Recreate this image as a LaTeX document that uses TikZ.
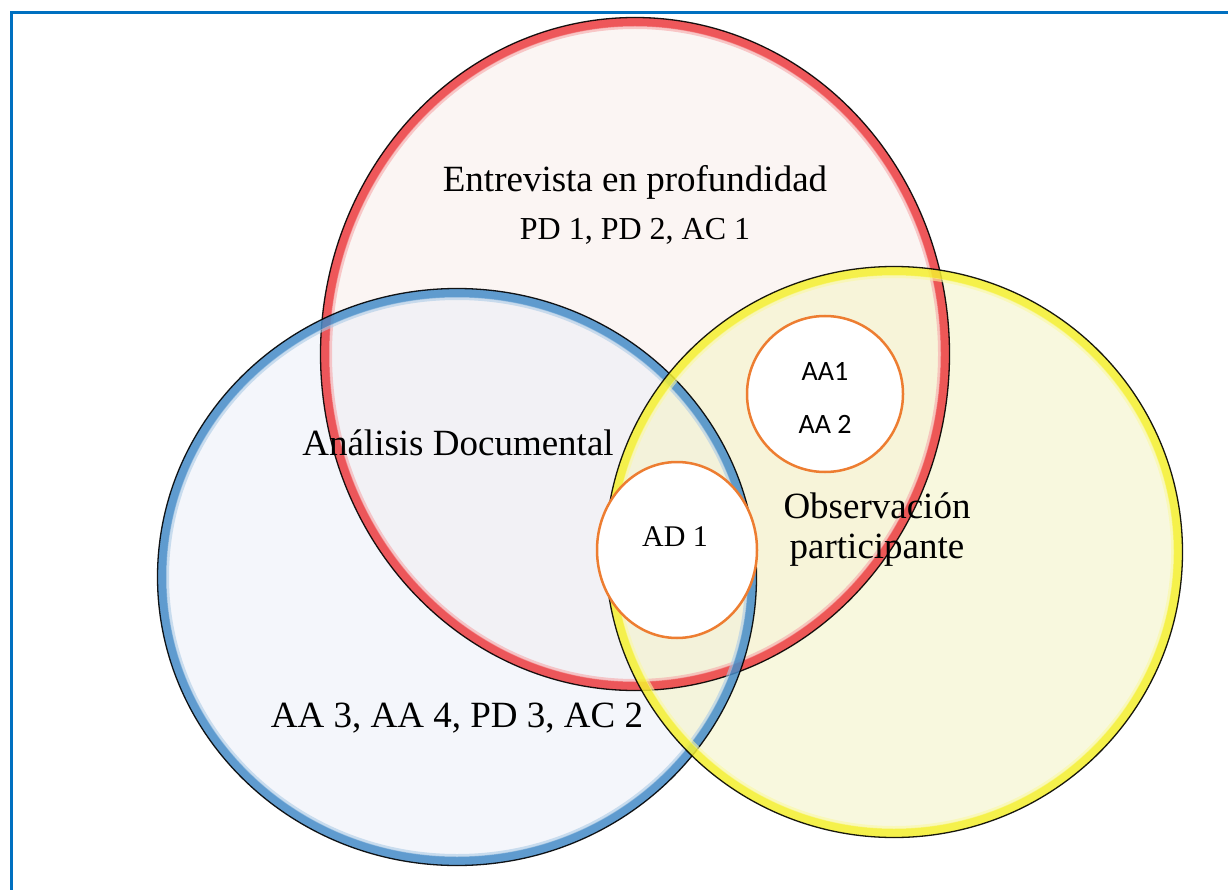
\documentclass[tikz,border=0pt]{standalone}
\usepackage{fontspec}
\setmainfont{Liberation Serif}
\newfontfamily\calibrifont{Carlito}
\usetikzlibrary{shapes.geometric}
\definecolor{frameblue}{RGB}{0,112,192}
\definecolor{ringred}{RGB}{236,60,64}
\definecolor{ringblue}{RGB}{70,140,200}
\definecolor{ringyellow}{RGB}{245,240,50}
\definecolor{fillred}{RGB}{248,236,232}
\definecolor{fillblue}{RGB}{234,238,248}
\definecolor{fillyellow}{RGB}{244,244,196}
\definecolor{smallorange}{RGB}{237,125,49}
\newcommand\vennfill[6]{\fill[#5, fill opacity=#6] (#1,#2) ellipse [x radius=#3, y radius=#4];}
\newcommand\vennring[5]{%
  \draw[#5, line width=9pt, opacity=0.85] (#1,#2) ellipse [x radius=#3-5, y radius=#4-5];
  \draw[#5!45, line width=3pt, opacity=0.6] (#1,#2) ellipse [x radius=#3-10.5, y radius=#4-10.5];
  \draw[black, line width=1.3pt, opacity=0.9] (#1,#2) ellipse [x radius=#3-0.5, y radius=#4-0.5];}
\tikzset{
  bigtext/.style={font=\fontsize{37}{42}\selectfont, anchor=base, inner sep=0pt},
  midtext/.style={font=\fontsize{32}{36}\selectfont, anchor=base, inner sep=0pt},
  smalltext/.style={font=\fontsize{30}{34}\selectfont, anchor=base, inner sep=0pt},
  sanstext/.style={font=\calibrifont\fontsize{28}{31}\selectfont, anchor=base, inner sep=0pt},
  smallcirc/.style={draw=smallorange, line width=2.5pt, fill=white, inner sep=0pt},
}
\begin{document}
\begin{tikzpicture}[x=1pt, y=-1pt]
\useasboundingbox (0,0) rectangle (1228,890);
\fill[white] (0,0) rectangle (1228,890);
% frame
\draw[frameblue, line width=3pt] (11,892) -- (11,13) -- (1230,13);
% fills
\vennfill{635}{354}{315}{337}{fillred}{0.5}
\vennfill{457}{577}{300}{289}{fillblue}{0.5}
\vennfill{894}{552}{289}{286}{fillyellow}{0.55}
% rings
\vennring{635}{354}{315}{337}{ringred}
\vennring{457}{577}{300}{289}{ringblue}
\vennring{894}{552}{289}{286}{ringyellow}
% small circles
\node[smallcirc, circle, minimum size=156pt] (aacirc) at (825,394) {};
\node[smallcirc, ellipse, minimum width=160pt, minimum height=176pt] (adcirc) at (677,550) {};
% texts
\node[bigtext] (entrev) at (635,192) {Entrevista en profundidad};
\node[midtext] (pdlist) at (635,240) {PD 1, PD 2, AC 1};
\node[bigtext] (analisis) at (458,455) {Análisis Documental};
\node[bigtext] (obs1) at (877,518) {Observación};
\node[bigtext] (obs2) at (877,558) {participante};
\node[bigtext] (aalist) at (457,727) {AA 3, AA 4, PD 3, AC 2};
\node[smalltext] (ad) at (675,546) {AD 1};
\node[sanstext] (aa1) at (825,380) {AA1};
\node[sanstext] (aa2) at (825,433) {AA 2};
\end{tikzpicture}
\end{document}
